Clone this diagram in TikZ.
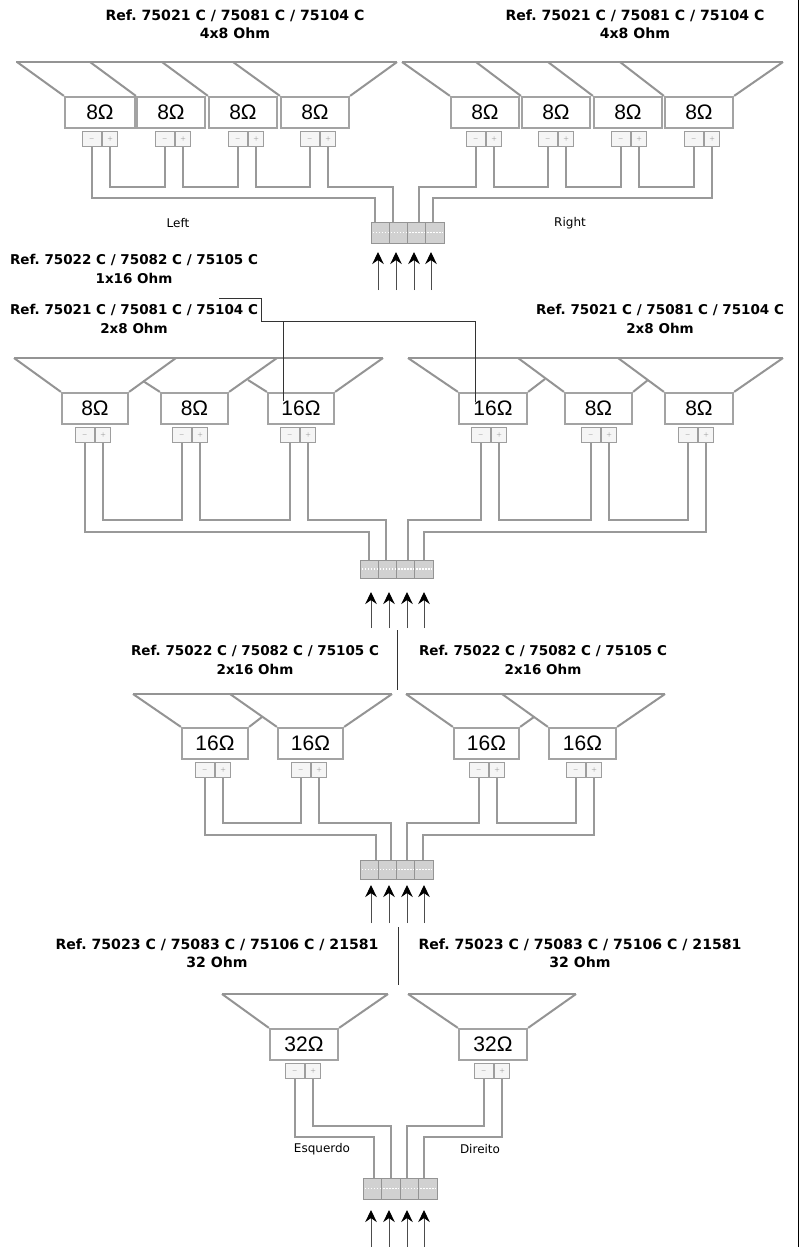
\documentclass[tikz,border=0pt]{standalone}
\usepackage{fontspec}
\usepackage{xcolor}
\usetikzlibrary{arrows.meta,calc}
\setmainfont{DejaVu Sans}
\newfontfamily\ohmfont{Liberation Sans}
\frenchspacing

\tikzset{
  cone/.style={draw=black!42,line width=2pt},
  coil/.style={draw=black!36,fill=white,line width=2.2pt,inner sep=0pt,font=\ohmfont\fontsize{21}{21}\selectfont},
  term/.style={draw=black!38,fill=black!4,line width=1.4pt,inner sep=0pt,minimum height=15pt,text=black!55,font=\fontsize{6}{6}\selectfont},
  wire/.style={draw=black!40,line width=2.2pt},
  cell/.style={draw=black!42,fill=black!18,line width=.8pt,inner sep=0pt},
  feed/.style={draw=black!70,line width=1pt,-{Stealth[black,length=12pt,width=11.5pt]}},
  lead/.style={draw=black!80,line width=.9pt},
  headbig/.style={align=center,inner sep=0pt,font=\bfseries\fontsize{14.1}{18}\selectfont},
  headsmall/.style={align=center,inner sep=0pt,font=\bfseries\fontsize{13.5}{18.5}\selectfont},
  side/.style={inner sep=0pt,font=\fontsize{12}{12}\selectfont},
}

% name, box left, box right, box top, label, middle of the terminal
\newcommand{\spk}[6]{
  \node[coil,minimum width={(#3-#2)*1pt},minimum height=31pt] (#1) at ({(#2+#3)/2},{#4+16.5}) {#5};
  \node[term,anchor=north east,minimum width=19pt] (#1m) at (#6,{#4+35}) {$-$};
  \node[term,anchor=north west,minimum width=15pt] (#1p) at (#6,{#4+35}) {$+$};
}
% link between two terminals along a level
\newcommand{\jump}[3]{\draw[wire] (#1.south) |- (#3 -| #2.south) -- (#2.south);}
% name, left, right, top, bottom, wire ends, arrow x, arrow tip, arrow base
\newcommand{\block}[8]{
  \pgfmathsetmacro{\cellw}{(#3-#2)/4}
  \foreach \i in {1,2,3,4} {
    \node[cell,minimum width={\cellw*1pt},minimum height={(#5-#4)*1pt}] (#1c\i) at ({#2+(\i-.5)*\cellw},{(#4+#5)/2}) {};
    \draw[white,line width=1.2pt,dash pattern=on 1.5pt off 1.5pt] ($(#1c\i.west)+(2,0)$) -- ($(#1c\i.east)+(-2,0)$);
  }
  \foreach \i/\x in {#6} {\coordinate (#1w\i) at (\x,#4);}
  \foreach \i/\x in {1/0,2/18,3/36,4/53} {
    \coordinate (#1t\i) at ({#7+\x},#8);
    \draw[feed] (#1t\i |- 0,\feedbase) -- (#1t\i);
  }
}

\begin{document}
\begin{tikzpicture}[x=1pt,y=-1pt]
  \useasboundingbox (0,0) rectangle (800,1247);
  % page rule on the right
  \coordinate (e1) at (798.4,0);
  \coordinate (e2) at (798.4,1247);
  \draw[black,line width=1pt] (e1) -- (e2);

  % 4x8 row
  \node[headbig] (h1) at (235,24) {Ref. 75021 C / 75081 C / 75104 C\\4x8 Ohm};
  \node[headbig] (h2) at (635,24) {Ref. 75021 C / 75081 C / 75104 C\\4x8 Ohm};
  \draw[cone] (16,62) -- (397,62);
  \draw[cone] (402,62) -- (783,62);
  \spk{a}{65}{135}{96}{8Ω}{102}
  \spk{b}{137}{205}{96}{8Ω}{175}
  \spk{c}{209}{277}{96}{8Ω}{248}
  \spk{d}{281}{349}{96}{8Ω}{320}
  \spk{e}{451}{519}{96}{8Ω}{486}
  \spk{f}{522}{590}{96}{8Ω}{558}
  \spk{g}{594}{662}{96}{8Ω}{631}
  \spk{k}{665}{733}{96}{8Ω}{704}
  \foreach \x/\s in {17/a,90/b,162/c,233/d,402/e,476/f,548/g,620/k}
    \draw[cone] (\x,62) -- (\s.north west);
  \draw[cone] (397,62) -- (d.north east);
  \draw[cone] (783,62) -- (k.north east);
  \def\feedbase{290}
  \block{r}{371}{444}{222}{243}{1/375,2/393,3/419,4/433}{378}{252}
  \coordinate (rhi) at (0,187);
  \coordinate (rlo) at (0,198);
  \jump{ap}{bm}{rhi}
  \jump{bp}{cm}{rhi}
  \jump{cp}{dm}{rhi}
  \jump{ep}{fm}{rhi}
  \jump{fp}{gm}{rhi}
  \jump{gp}{km}{rhi}
  \draw[wire] (am.south) |- (rlo -| rw1) -- (rw1);
  \draw[wire] (dp.south) |- (rhi -| rw2) -- (rw2);
  \draw[wire] (em.south) |- (rhi -| rw3) -- (rw3);
  \draw[wire] (kp.south) |- (rlo -| rw4) -- (rw4);
  \node[side] (left) at (178,223) {Left};
  \node[side] (right) at (570,223) {Right};

  % 2x8 + 1x16 row
  \node[headsmall] (h3) at (134,269) {Ref. 75022 C / 75082 C / 75105 C\\1x16 Ohm};
  \node[headsmall] (h4) at (134,319) {Ref. 75021 C / 75081 C / 75104 C\\2x8 Ohm};
  \node[headsmall] (h5) at (660,319) {Ref. 75021 C / 75081 C / 75104 C\\2x8 Ohm};
  \draw[cone] (14,358) -- (383,358);
  \draw[cone] (408,358) -- (783,358);
  \spk{m}{62}{128}{392}{8Ω}{95}
  \spk{n}{161}{228}{392}{8Ω}{192}
  \spk{o}{268}{334}{392}{16Ω}{300}
  \spk{q}{459}{527}{392}{16Ω}{491}
  \spk{s}{565}{632}{392}{8Ω}{601}
  \spk{t}{665}{733}{392}{8Ω}{698}
  \draw[cone] (14,358) -- (m.north west);
  \draw[cone] (176,358) -- (m.north east);
  \draw[cone] (143,381) -- (n.north west);
  \draw[cone] (277,358) -- (n.north east);
  \draw[cone] (248,380) -- (o.north west);
  \draw[cone] (383,358) -- (o.north east);
  \draw[cone] (408,358) -- (q.north west);
  \draw[cone] (545,379) -- (q.north east);
  \draw[cone] (518,358) -- (s.north west);
  \draw[cone] (648,380) -- (s.north east);
  \draw[cone] (618,358) -- (t.north west);
  \draw[cone] (783,358) -- (t.north east);
  \def\feedbase{628}
  \block{u}{360}{433}{560}{578}{1/369,2/386,3/408,4/424}{371}{592}
  \coordinate (uhi) at (0,520);
  \coordinate (ulo) at (0,532);
  \jump{mp}{nm}{uhi}
  \jump{np}{om}{uhi}
  \jump{qp}{sm}{uhi}
  \jump{sp}{tm}{uhi}
  \draw[wire] (mm.south) |- (ulo -| uw1) -- (uw1);
  \draw[wire] (op.south) |- (uhi -| uw2) -- (uw2);
  \draw[wire] (qm.south) |- (uhi -| uw3) -- (uw3);
  \draw[wire] (tp.south) |- (ulo -| uw4) -- (uw4);
  % lead from the 1x16 reference to both 16 ohm coils
  \coordinate (l0) at (219,298);
  \coordinate (l1) at (261,298);
  \coordinate (l2) at (261,321);
  \coordinate (l3) at (475,321);
  \coordinate (l4) at (475,402);
  \coordinate (l5) at (283,321);
  \coordinate (l6) at (283,401);
  \draw[lead] (l0) -- (l1) -- (l2) -- (l3) -- (l4);
  \draw[lead] (l5) -- (l6);

  % 2x16 row
  \coordinate (d1) at (397,630);
  \coordinate (d2) at (397,690);
  \draw[lead] (d1) -- (d2);
  \node[headsmall] (h6) at (255,660) {Ref. 75022 C / 75082 C / 75105 C\\2x16 Ohm};
  \node[headsmall] (h7) at (543,660) {Ref. 75022 C / 75082 C / 75105 C\\2x16 Ohm};
  \draw[cone] (133,694) -- (392,694);
  \draw[cone] (406,694) -- (665,694);
  \spk{v}{182}{248}{727}{16Ω}{215}
  \spk{w}{278}{343}{727}{16Ω}{311}
  \spk{x}{454}{519}{727}{16Ω}{489}
  \spk{y}{549}{616}{727}{16Ω}{586}
  \draw[cone] (133,694) -- (v.north west);
  \draw[cone] (262,717) -- (v.north east);
  \draw[cone] (230,694) -- (w.north west);
  \draw[cone] (392,694) -- (w.north east);
  \draw[cone] (406,694) -- (x.north west);
  \draw[cone] (534,717) -- (x.north east);
  \draw[cone] (502,694) -- (y.north west);
  \draw[cone] (665,694) -- (y.north east);
  \def\feedbase{923}
  \block{z}{360}{433}{860}{879}{1/376,2/391,3/407,4/423}{371}{885}
  \coordinate (zhi) at (0,823);
  \coordinate (zlo) at (0,835);
  \jump{vp}{wm}{zhi}
  \jump{xp}{ym}{zhi}
  \draw[wire] (vm.south) |- (zlo -| zw1) -- (zw1);
  \draw[wire] (wp.south) |- (zhi -| zw2) -- (zw2);
  \draw[wire] (xm.south) |- (zhi -| zw3) -- (zw3);
  \draw[wire] (yp.south) |- (zlo -| zw4) -- (zw4);

  % 32 ohm row
  \coordinate (d3) at (398,927);
  \coordinate (d4) at (398,985);
  \draw[lead] (d3) -- (d4);
  \node[headbig] (h8) at (217,953) {Ref. 75023 C / 75083 C / 75106 C / 21581\\32 Ohm};
  \node[headbig] (h9) at (580,953) {Ref. 75023 C / 75083 C / 75106 C / 21581\\32 Ohm};
  \draw[cone] (222,994) -- (388,994);
  \draw[cone] (408,994) -- (576,994);
  \spk{aa}{270}{338}{1028}{32Ω}{305}
  \spk{bb}{459}{527}{1028}{32Ω}{494}
  \draw[cone] (222,994) -- (aa.north west);
  \draw[cone] (388,994) -- (aa.north east);
  \draw[cone] (408,994) -- (bb.north west);
  \draw[cone] (576,994) -- (bb.north east);
  \def\feedbase{1247}
  \block{cc}{363}{437}{1178}{1199}{1/374,2/391,3/407,4/424}{371}{1210}
  \coordinate (chi) at (0,1126);
  \coordinate (clo) at (0,1137);
  \draw[wire] (aam.south) |- (clo -| ccw1) -- (ccw1);
  \draw[wire] (aap.south) |- (chi -| ccw2) -- (ccw2);
  \draw[wire] (bbm.south) |- (chi -| ccw3) -- (ccw3);
  \draw[wire] (bbp.south) |- (clo -| ccw4) -- (ccw4);
  \node[side] (esq) at (322,1149) {Esquerdo};
  \node[side] (dir) at (480,1149) {Direito};
\end{tikzpicture}
\end{document}
